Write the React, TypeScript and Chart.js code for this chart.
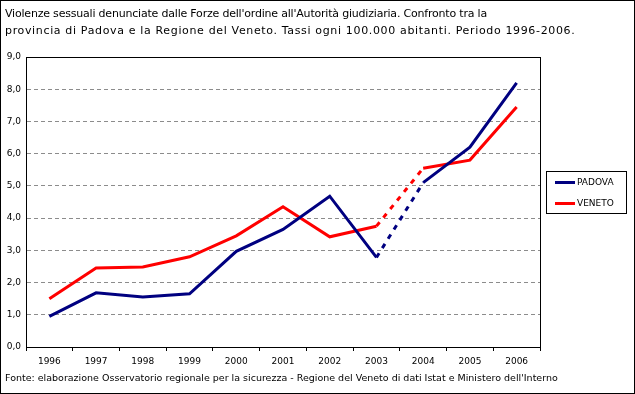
import React, { useEffect, useRef } from "react";
import { Chart, registerables } from "chart.js";

Chart.register(...registerables);

const years = ["1996", "1997", "1998", "1999", "2000", "2001", "2002", "2003", "2004", "2005", "2006"];
const padova = [0.95, 1.68, 1.55, 1.65, 2.97, 3.65, 4.68, 2.78, 5.1, 6.2, 8.2];
const veneto = [1.5, 2.45, 2.48, 2.8, 3.45, 4.35, 3.42, 3.75, 5.55, 5.8, 7.45];
const seriesNames = ["PADOVA", "VENETO"];
const titleLines = [
  "Violenze sessuali denunciate dalle Forze dell'ordine all'Autorità giudiziaria. Confronto tra la",
  "provincia di Padova e la Regione del Veneto. Tassi ogni 100.000 abitanti. Periodo 1996-2006.",
];
const sourceNote =
  "Fonte: elaborazione Osservatorio regionale per la sicurezza - Regione del Veneto di dati Istat e Ministero dell'Interno";

const BLUE = "#000080";
const RED = "#FF0000";
const FONT = "'DejaVu Sans', Verdana, sans-serif";

const frame = {
  id: "frame",
  afterDatasetsDraw(chart: any) {
    const { ctx, chartArea: a } = chart;
    ctx.save();
    ctx.strokeStyle = "#000";
    ctx.lineWidth = 1;
    ctx.setLineDash([]);
    ctx.strokeRect(Math.round(a.left) + 0.5, Math.round(a.top) + 0.5, Math.round(a.right - a.left), Math.round(a.bottom - a.top));
    ctx.restore();
  },
};

export default function App() {
  const ref = useRef<HTMLCanvasElement | null>(null);
  useEffect(() => {
    const dash = (ctx: any) => (ctx.p0DataIndex === 7 ? [5, 6] : undefined);
    const chart = new Chart(ref.current!, {
      type: "line",
      data: {
        labels: years,
        datasets: [
          { label: seriesNames[0], data: padova, borderColor: BLUE, backgroundColor: BLUE, borderWidth: 3, pointRadius: 0, tension: 0, segment: { borderDash: dash } },
          { label: seriesNames[1], data: veneto, borderColor: RED, backgroundColor: RED, borderWidth: 3, pointRadius: 0, tension: 0, segment: { borderDash: dash } },
        ],
      },
      options: {
        animation: false,
        responsive: false,
        devicePixelRatio: 1,
        layout: { padding: { left: 0, top: 57, right: 95, bottom: 27 } },
        plugins: { legend: { display: false }, title: { display: false }, tooltip: { enabled: false } },
        scales: {
          x: {
            type: "category",
            offset: true,
            afterFit: (s: any) => { s.height = 20; },
            grid: { offset: true, drawOnChartArea: false, drawTicks: true, tickLength: 4, color: "#000" },
            border: { display: true, color: "#000" },
            ticks: { color: "#000", font: { family: FONT, size: 9 }, padding: 5, maxRotation: 0, autoSkip: false },
          },
          y: {
            min: 0,
            max: 9,
            afterFit: (s: any) => { s.width = 26; },
            grid: { color: "#8c8c8c", drawTicks: false },
            border: { display: true, color: "#000", dash: [4, 3] },
            ticks: {
              stepSize: 1,
              color: "#000",
              padding: 5,
              font: { family: FONT, size: 9 },
              callback: (v: any) => Number(v).toFixed(1).replace(".", ","),
            },
          },
        },
      },
      plugins: [frame],
    } as any);
    return () => chart.destroy();
  }, []);

  return (
    <div style={{ position: "fixed", left: 0, top: 0, width: 635, height: 394, background: "#fff" }}>
      <canvas ref={ref} width={635} height={394} style={{ position: "absolute", left: 0, top: 0, width: 635, height: 394 }} />
      <div style={{ position: "absolute", left: 0, top: 0, width: 635, height: 394, boxSizing: "border-box", border: "1px solid #000", pointerEvents: "none" }} />
      <div style={{ position: "absolute", left: 5, top: 5, fontFamily: FONT, fontSize: 11, lineHeight: "17px", color: "#000", whiteSpace: "nowrap" }}>
        <div style={{ letterSpacing: "-0.2px" }}>{titleLines[0]}</div>
        <div style={{ letterSpacing: "0.65px" }}>{titleLines[1]}</div>
      </div>
      <div style={{ position: "absolute", left: 5, top: 372, fontFamily: FONT, fontSize: 9.5, color: "#000", whiteSpace: "nowrap" }}>
        {sourceNote}
      </div>
      <div style={{ position: "absolute", left: 546, top: 171, width: 81, height: 43, boxSizing: "border-box", border: "1px solid #000", background: "#fff", fontFamily: FONT, fontSize: 9 }}>
        {seriesNames.map((n, i) => (
          <div key={n} style={{ position: "absolute", left: 8, top: 4 + i * 21, display: "flex", alignItems: "center", height: 12 }}>
            <div style={{ width: 20, height: 3, background: i === 0 ? BLUE : RED }} />
            <span style={{ marginLeft: 2 }}>{n}</span>
          </div>
        ))}
      </div>
    </div>
  );
}
